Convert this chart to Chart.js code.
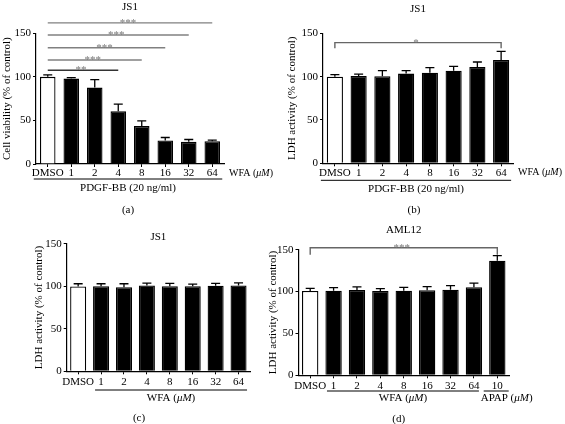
<!DOCTYPE html>
<html>
<head>
<meta charset="utf-8">
<script src="https://cdn.jsdelivr.net/npm/chart.js@4.4.1/dist/chart.umd.min.js"></script>
<style>
  body { margin: 0; background: #fff; }
  #fig { position: relative; width: 565px; height: 424px; overflow: hidden; background: #fff; }
  canvas { position: absolute; }
</style>
</head>
<body>
<div id="fig">
  <canvas id="cA" width="282" height="220" style="left:0px;top:0px"></canvas>
  <canvas id="cB" width="283" height="220" style="left:282px;top:0px"></canvas>
  <canvas id="cC" width="282" height="208" style="left:0px;top:216px"></canvas>
  <canvas id="cD" width="303" height="208" style="left:262px;top:216px"></canvas>
</div>
<script>
// categories
const doses = ["DMSO", "1", "2", "4", "8", "16", "32", "64"];
const dosesApap = ["DMSO", "1", "2", "4", "8", "16", "32", "64", "10"];

// (a) JS1 cell viability
const viabilityA = [100, 98, 87.7, 60.4, 43.5, 26.9, 25.4, 26.2];
const viabilityAErr = [2.3, 1.2, 9.2, 8.4, 6.1, 3.5, 2.7, 1.1];

// (b) JS1 LDH with PDGF-BB
const ldhB = [100, 100.8, 100.4, 103.5, 104.6, 106.9, 111.2, 119.2];
const ldhBErr = [2.3, 2.2, 6.5, 3.4, 5.8, 5, 5.7, 10];

// (c) JS1 LDH, WFA only
const ldhC = [99.7, 100.1, 98.9, 100.9, 100.1, 100.1, 100.5, 100.9];
const ldhCErr = [3.2, 2.8, 4, 2.8, 3.2, 2.4, 2.8, 3.1];

// (d) AML12 LDH
const ldhD = [100.7, 101.1, 101.9, 100.7, 101.1, 101.5, 102.3, 105.1, 136.9];
const ldhDErr = [3.2, 3.6, 3.6, 2.8, 4, 4.4, 4.7, 5.1, 6];

// y ticks
const yMin = 0, yMax = 150, yStep = 50;

const FONT = "'Liberation Serif', 'Times New Roman', serif";
const FS = 11;

function drawRich(ctx, parts, x, y, align, size) {
  let total = 0;
  const widths = parts.map(p => {
    ctx.font = (p[1] ? "italic " : "") + size + "px " + FONT;
    const w = ctx.measureText(p[0]).width;
    total += w;
    return w;
  });
  let cx = align === "left" ? x : (align === "right" ? x - total : x - total / 2);
  ctx.textAlign = "left";
  ctx.textBaseline = "middle";
  parts.forEach((p, i) => {
    ctx.font = (p[1] ? "italic " : "") + size + "px " + FONT;
    ctx.fillText(p[0], cx, y);
    cx += widths[i];
  });
}

const uM = [["WFA (", false], ["\u03bcM", true], [")", false]];
const apapUM = [["APAP (", false], ["\u03bcM", true], [")", false]];
const pdgf = [["PDGF-BB (20 ng/ml)", false]];

function extras(spec) {
  return {
    id: "extras",
    afterDatasetsDraw(chart) {
      const ctx = chart.ctx, ys = chart.scales.y;
      const meta = chart.getDatasetMeta(0);
      ctx.save();
      ctx.strokeStyle = "#000";
      ctx.lineWidth = 1.3;
      spec.err.forEach((e, i) => {
        const bx = meta.data[i].x;
        const top = ys.getPixelForValue(spec.values[i]);
        const cap = ys.getPixelForValue(spec.values[i] + e);
        ctx.beginPath();
        ctx.moveTo(bx, top);
        ctx.lineTo(bx, cap);
        ctx.moveTo(bx - 4.5, cap);
        ctx.lineTo(bx + 4.5, cap);
        ctx.stroke();
      });
      ctx.restore();
    },
    afterDraw(chart) {
      const ctx = chart.ctx, xs = chart.scales.x, ys = chart.scales.y, area = chart.chartArea;
      ctx.save();
      // significance lines
      spec.sig.forEach(s => {
        const x1 = xs.getPixelForValue(s.from), x2 = xs.getPixelForValue(s.to);
        const py = ys.getPixelForValue(s.v);
        ctx.strokeStyle = s.color;
        ctx.lineWidth = 1.4;
        ctx.beginPath();
        if (s.drop != null) {
          const pd = ys.getPixelForValue(s.drop);
          ctx.moveTo(x1, pd); ctx.lineTo(x1, py); ctx.lineTo(x2, py); ctx.lineTo(x2, pd);
        } else {
          ctx.moveTo(x1, py); ctx.lineTo(x2, py);
        }
        ctx.stroke();
        ctx.fillStyle = "#777";
        ctx.font = "11px " + FONT;
        ctx.textAlign = "center";
        ctx.textBaseline = "alphabetic";
        ctx.fillText(s.label, (x1 + x2) / 2 - 2, py + 3);
      });
      ctx.fillStyle = "#000";
      // title
      ctx.font = FS + "px " + FONT;
      ctx.textAlign = "center";
      ctx.textBaseline = "middle";
      ctx.fillText(spec.title, (area.left + area.right) / 2, area.top - spec.titleGap);
      // unit to the right of the axis
      if (spec.unit) drawRich(ctx, uM, area.right + 5, area.bottom + spec.labelOff, "left", 10);
      // grouping lines under the tick labels
      spec.groups.forEach(g => {
        const x1 = xs.getPixelForValue(g.from) + g.padL, x2 = xs.getPixelForValue(g.to) + g.padR;
        const ly = area.bottom + spec.lineOff;
        ctx.strokeStyle = "#000";
        ctx.lineWidth = 1;
        ctx.beginPath();
        ctx.moveTo(x1, ly); ctx.lineTo(x2, ly);
        ctx.stroke();
        const ty = area.bottom + spec.groupOff;
        if (g.align === "left") drawRich(ctx, g.text, x1 - 3, ty, "left", FS);
        else drawRich(ctx, g.text, (x1 + x2) / 2, ty, "center", FS);
      });
      // panel letter
      drawRich(ctx, [[spec.letter, false]], spec.letterX, spec.letterY, "center", FS);
      ctx.restore();
    }
  };
}

function panel(id, cats, values, err, yTitle, lay, spec) {
  spec.values = values;
  spec.err = err;
  const fills = cats.map((c, i) => i === 0 ? "#fff" : "#000");
  new Chart(document.getElementById(id), {
    type: "bar",
    data: {
      labels: cats,
      datasets: [{
        data: values,
        backgroundColor: fills,
        borderColor: "#000",
        borderWidth: 1.3,
        categoryPercentage: 1,
        barPercentage: lay.barPct
      }]
    },
    options: {
      responsive: false,
      animation: false,
      events: [],
      layout: { padding: { left: 0, right: lay.pr, top: lay.pt, bottom: 0 } },
      plugins: { legend: { display: false }, tooltip: { enabled: false } },
      scales: {
        x: {
          ticks: { color: "#000", font: { family: FONT, size: FS }, padding: lay.tickPad, maxRotation: 0, autoSkip: false },
          grid: { drawOnChartArea: false, offset: false, tickLength: 3, color: "#000" },
          border: { color: "#000", width: 1.2 },
          afterFit(s) { s.height = lay.xh; }
        },
        y: {
          min: yMin, max: yMax,
          ticks: { stepSize: yStep, color: "#000", font: { family: FONT, size: FS }, padding: 2 },
          grid: { drawOnChartArea: false, tickLength: 3, color: "#000" },
          border: { color: "#000", width: 1.2 },
          title: { display: true, text: yTitle, color: "#000", font: { family: FONT, size: FS }, padding: { top: lay.titlePad, bottom: 0 } },
          afterFit(s) { s.width = lay.yw; }
        }
      }
    },
    plugins: [extras(spec)]
  });
}

panel("cA", doses, viabilityA, viabilityAErr, "Cell viability (% of control)",
  { pr: 58, pt: 33.3, xh: 56, yw: 36, titlePad: 0.5, tickPad: 0, barPct: 0.66 },
  {
    title: "JS1", titleGap: 26, unit: true, labelOff: 9, lineOff: 15, groupOff: 24,
    letter: "(a)", letterX: 128, letterY: 210,
    groups: [{ from: 0, to: 7, padL: -14, padR: 10, text: pdgf }],
    sig: [
      { from: 0, to: 7, v: 162, label: "***", color: "#808080" },
      { from: 0, to: 6, v: 148, label: "***", color: "#808080" },
      { from: 0, to: 5, v: 133.5, label: "***", color: "#808080" },
      { from: 0, to: 4, v: 119.4, label: "***", color: "#808080" },
      { from: 0, to: 3, v: 107.6, label: "**", color: "#333" }
    ]
  });

panel("cB", doses, ldhB, ldhBErr, "LDH activity (% of control)",
  { pr: 52, pt: 33.3, xh: 56.7, yw: 41, titlePad: 3.5, tickPad: 0, barPct: 0.68 },
  {
    title: "JS1", titleGap: 24, unit: true, labelOff: 9.5, lineOff: 17, groupOff: 25.5,
    letter: "(b)", letterX: 132, letterY: 210,
    groups: [{ from: 0, to: 7, padL: -14, padR: 10, text: pdgf }],
    sig: [{ from: 0, to: 7, v: 139.2, drop: 132.7, label: "*", color: "#666" }]
  });

panel("cC", doses, ldhC, ldhCErr, "LDH activity (% of control)",
  { pr: 32, pt: 27.7, xh: 52.7, yw: 66.7, titlePad: 32.5, tickPad: 1.5, barPct: 0.7 },
  {
    title: "JS1", titleGap: 7, unit: false, labelOff: 10.4, lineOff: 18.7, groupOff: 27,
    letter: "(c)", letterX: 139, letterY: 202,
    groups: [{ from: 1, to: 7, padL: -6, padR: 8.5, text: uM }],
    sig: []
  });

panel("cD", dosesApap, ldhD, ldhDErr, "LDH activity (% of control)",
  { pr: 56, pt: 33.7, xh: 48.7, yw: 36.5, titlePad: 4.5, tickPad: 1, barPct: 0.7 },
  {
    title: "AML12", titleGap: 20, unit: false, labelOff: 10, lineOff: 15.7, groupOff: 23.3,
    letter: "(d)", letterX: 136.7, letterY: 203,
    groups: [
      { from: 1, to: 7, padL: -6.6, padR: 5, text: uM },
      { from: 8, to: 8, padL: -13.6, padR: 11.4, text: apapUM, align: "left" }
    ],
    sig: [{ from: 0, to: 8, v: 152.4, drop: 144, label: "***", color: "#666" }]
  });
</script>
</body>
</html>
